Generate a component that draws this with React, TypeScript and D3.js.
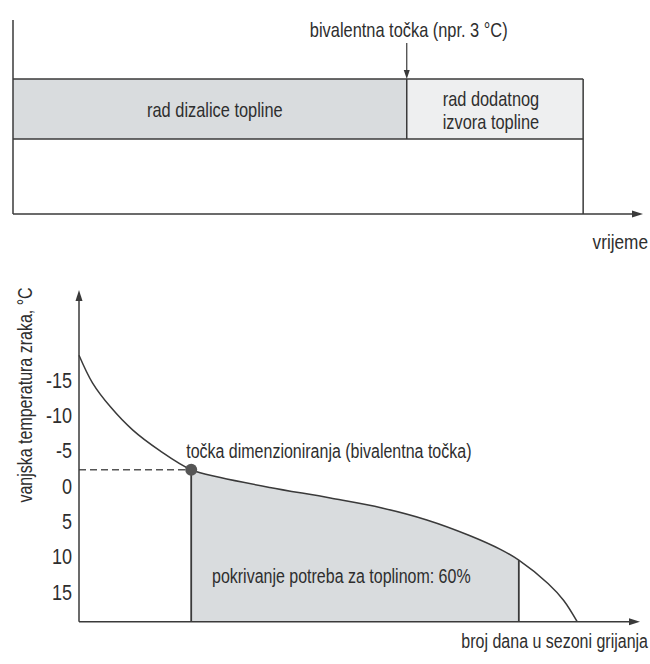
import React from "react";
import * as d3 from "d3";

// ---- Top panel data (time axis in % of the period) ----
const stageBounds = [0, 62.5, 90.5];
const stageLabels = [["rad dizalice topline"], ["rad dodatnog", "izvora topline"]];
const bivalentLabel = "bivalentna točka (npr. 3 °C)";
const timeLabel = "vrijeme";

// ---- Bottom panel data: annual temperature duration curve ----
const days = [0, 6, 14, 24, 36, 50, 63, 85, 112, 135, 155, 174, 188, 196, 209, 216, 222];
const temps = [-18.5, -14.6, -11.2, -7.9, -5.0, -2.3, -1.2, 0.2, 1.7, 3.1, 4.8, 7.0, 9.0, 10.5, 13.8, 16.2, 19.2];
const tempTicks = [-15, -10, -5, 0, 5, 10, 15];
const bivalentDay = 50;
const limitDay = 196;
const axisTemp = 19.2;
const pointLabel = "točka dimenzioniranja (bivalentna točka)";
const coverageLabel = "pokrivanje potreba za toplinom: 60%";
const xTitle = "broj dana u sezoni grijanja";
const yTitle = "vanjska temperatura zraka, °C";

const FONT = "'Liberation Sans', Arial, sans-serif";
const INK = "#3a3a3a";
const TXT = "#2e2e2e";
const SX = 0.82;

type TProps = { x: number; y: number; size: number; anchor?: string; rotate?: number; children: React.ReactNode };
function T({ x, y, size, anchor = "start", rotate = 0, children }: TProps) {
  return (
    <text
      transform={`translate(${x},${y}) rotate(${rotate}) scale(${SX},1)`}
      textAnchor={anchor}
      dominantBaseline="central"
      fontSize={size}
      fontFamily={FONT}
      fill={TXT}
    >
      {children}
    </text>
  );
}

export default function App() {
  const W = 650, H = 664;

  // top panel scales
  const tx = d3.scaleLinear().domain([0, 100]).range([13, 643]);
  const bandTop = 79, bandBot = 139, topAxisY = 214, topAxisTop = 20;

  // bottom panel scales
  const x = d3.scaleLinear().domain([0, 250]).range([79, 640]);
  const y = d3.scaleLinear().domain([-15, 15]).range([380, 592]);
  const baseY = y(axisTemp);
  const yAxisTop = 290;

  const pts = days.map((d, i) => [d, temps[i]] as [number, number]);
  const curve = d3.curveCatmullRom.alpha(0.5);
  const line = d3.line<[number, number]>().x(d => x(d[0])).y(d => y(d[1])).curve(curve);
  const area = d3.area<[number, number]>().x(d => x(d[0])).y0(baseY).y1(d => y(d[1])).curve(curve);
  const bivTemp = temps[days.indexOf(bivalentDay)];
  const limTemp = temps[days.indexOf(limitDay)];

  const arrowRight = (tipX: number, tipY: number) =>
    `M${tipX},${tipY} L${tipX - 11},${tipY - 3.5} L${tipX - 11},${tipY + 3.5} Z`;
  const arrowUp = (tipX: number, tipY: number) =>
    `M${tipX},${tipY} L${tipX - 3.5},${tipY + 11} L${tipX + 3.5},${tipY + 11} Z`;
  const arrowDown = (tipX: number, tipY: number) =>
    `M${tipX},${tipY} L${tipX - 3},${tipY - 9} L${tipX + 3},${tipY - 9} Z`;

  return (
    <svg width={W} height={H} style={{ position: "absolute", left: 0, top: 0, background: "#fff" }}>
      <defs>
        <clipPath id="cover">
          <rect x={x(bivalentDay)} y={0} width={x(limitDay) - x(bivalentDay)} height={H} />
        </clipPath>
      </defs>

      {/* ===== Top panel ===== */}
      <rect x={tx(stageBounds[0])} y={bandTop} width={tx(stageBounds[1]) - tx(stageBounds[0])} height={bandBot - bandTop} fill="#d9dcde" />
      <rect x={tx(stageBounds[1])} y={bandTop} width={tx(stageBounds[2]) - tx(stageBounds[1])} height={bandBot - bandTop} fill="#eeeff0" />
      <line x1={tx(0)} x2={tx(stageBounds[2])} y1={bandTop} y2={bandTop} stroke={INK} strokeWidth={1.5} />
      <line x1={tx(0)} x2={tx(stageBounds[2])} y1={bandBot} y2={bandBot} stroke={INK} strokeWidth={1.5} />
      <line x1={tx(stageBounds[1])} x2={tx(stageBounds[1])} y1={bandTop} y2={bandBot} stroke={INK} strokeWidth={1.5} />
      <line x1={tx(stageBounds[2])} x2={tx(stageBounds[2])} y1={bandTop} y2={topAxisY} stroke={INK} strokeWidth={1.5} />
      <line x1={tx(0)} x2={tx(0)} y1={topAxisTop} y2={topAxisY} stroke={INK} strokeWidth={1.5} />
      <line x1={tx(0)} x2={tx(100) - 4} y1={topAxisY} y2={topAxisY} stroke={INK} strokeWidth={1.5} />
      <path d={arrowRight(tx(100), topAxisY)} fill={INK} />
      <line x1={tx(stageBounds[1])} x2={tx(stageBounds[1])} y1={43} y2={bandTop - 6} stroke={INK} strokeWidth={1.2} />
      <path d={arrowDown(tx(stageBounds[1]), bandTop)} fill={INK} />
      <T x={tx(stageBounds[1]) + 2} y={30} size={20} anchor="middle">{bivalentLabel}</T>
      {stageLabels.map((lines, i) => {
        const cx = (tx(stageBounds[i]) + tx(stageBounds[i + 1])) / 2;
        const cy = (bandTop + bandBot) / 2 + 1;
        return lines.map((t, j) => (
          <T key={`${i}-${j}`} x={i === 0 ? cx + 5 : cx - 4} y={cy + (j - (lines.length - 1) / 2) * 23} size={20} anchor="middle">{t}</T>
        ));
      })}
      <T x={648} y={242} size={21} anchor="end">{timeLabel}</T>

      {/* ===== Bottom panel ===== */}
      <path d={area(pts) || ""} fill="#d9dcde" clipPath="url(#cover)" />
      <path d={line(pts) || ""} fill="none" stroke={INK} strokeWidth={1.5} />
      <line x1={x(0)} x2={x(bivalentDay)} y1={y(bivTemp)} y2={y(bivTemp)} stroke="#555" strokeWidth={1.3} strokeDasharray="7,4" />
      <line x1={x(bivalentDay)} x2={x(bivalentDay)} y1={y(bivTemp)} y2={baseY} stroke={INK} strokeWidth={1.8} />
      <line x1={x(limitDay)} x2={x(limitDay)} y1={y(limTemp)} y2={baseY} stroke={INK} strokeWidth={1.8} />
      <circle cx={x(bivalentDay)} cy={y(bivTemp)} r={6} fill="#555" />

      <line x1={x(0)} x2={x(0)} y1={yAxisTop + 6} y2={baseY} stroke={INK} strokeWidth={1.5} />
      <path d={arrowUp(x(0), yAxisTop)} fill={INK} />
      <line x1={x(0)} x2={x(250) - 4} y1={baseY} y2={baseY} stroke={INK} strokeWidth={1.5} />
      <path d={arrowRight(x(250), baseY)} fill={INK} />

      {tempTicks.map(t => (
        <T key={t} x={72} y={y(t)} size={22} anchor="end">{t}</T>
      ))}
      <T x={25} y={395} size={19.5} anchor="middle" rotate={-90}>{yTitle}</T>
      <T x={x(bivalentDay) - 5} y={451} size={19.5}>{pointLabel}</T>
      <T x={212} y={576} size={19.5}>{coverageLabel}</T>
      <T x={648} y={641} size={19.5} anchor="end">{xTitle}</T>
    </svg>
  );
}
